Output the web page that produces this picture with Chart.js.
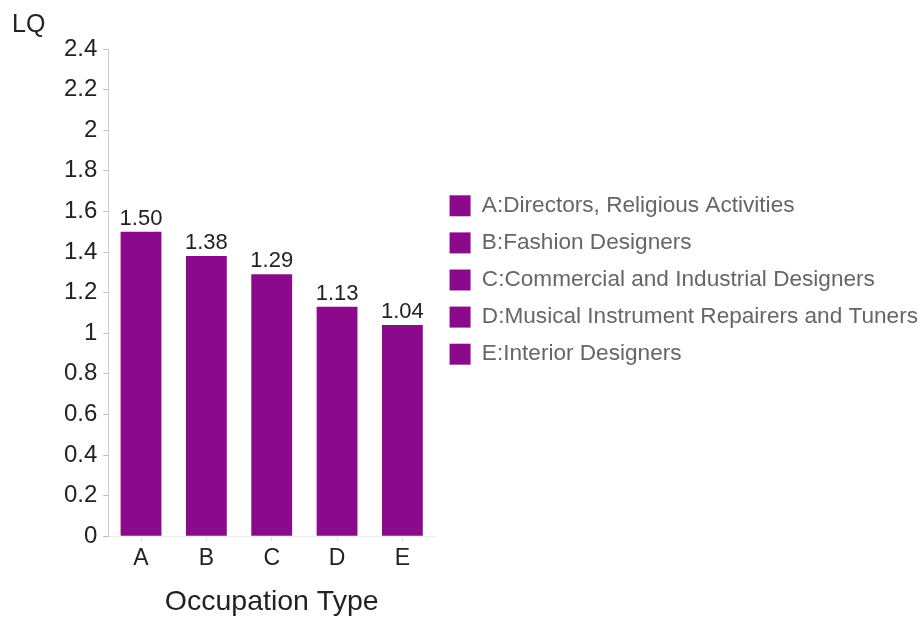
<!DOCTYPE html>
<html>
<head>
<meta charset="utf-8">
<title>LQ by Occupation Type</title>
<script src="https://cdn.jsdelivr.net/npm/chart.js@4.4.0/dist/chart.umd.min.js"></script>
<style>
  html, body { margin: 0; padding: 0; background: #fff; }
  #wrap { width: 922px; height: 619px; position: relative; }
</style>
</head>
<body>
<div id="wrap"><canvas id="lqChart"></canvas></div>
<script>
// LQ per occupation type
const categories = ['A', 'B', 'C', 'D', 'E'];
const lqValues = [1.50, 1.38, 1.29, 1.13, 1.04];
const occupations = [
  'A:Directors, Religious Activities',
  'B:Fashion Designers',
  'C:Commercial and Industrial Designers',
  'D:Musical Instrument Repairers and Tuners',
  'E:Interior Designers'
];
const yTicks = [0, 0.2, 0.4, 0.6, 0.8, 1, 1.2, 1.4, 1.6, 1.8, 2, 2.2, 2.4];

const barColor = '#8b0a8b';
const fontFamily = '"Liberation Sans", Arial, Helvetica, sans-serif';

// value labels over the bars + the "LQ" axis name in the top corner
const barLabels = {
  id: 'barLabels',
  afterDatasetsDraw(chart) {
    const ctx = chart.ctx;
    const meta = chart.getDatasetMeta(0);
    ctx.save();
    ctx.fillStyle = '#222';
    ctx.font = '22px ' + fontFamily;
    ctx.textAlign = 'center';
    ctx.textBaseline = 'bottom';
    meta.data.forEach((bar, i) => {
      ctx.fillText(lqValues[i].toFixed(2), bar.x, bar.y - 2);
    });
    ctx.font = '25px ' + fontFamily;
    ctx.textAlign = 'left';
    ctx.textBaseline = 'middle';
    ctx.fillText('LQ', 12, 25);
    ctx.restore();
  }
};

const ctx = document.getElementById('lqChart').getContext('2d');
const chart = new Chart(ctx, {
  type: 'bar',
  data: {
    labels: categories,
    datasets: [{
      label: 'LQ',
      data: lqValues,
      backgroundColor: barColor,
      borderWidth: 0,
      barPercentage: 0.625,
      categoryPercentage: 1
    }]
  },
  options: {
    responsive: true,
    maintainAspectRatio: false,
    animation: false,
    layout: {
      padding: { top: 49, left: 58, right: -6, bottom: 0 }
    },
    plugins: {
      tooltip: { enabled: false },
      legend: {
        position: 'right',
        align: 'start',
        maxWidth: 520,
        title: {
          display: true,
          text: '',
          font: { size: 10, family: fontFamily },
          padding: { top: 119, bottom: 0 }
        },
        labels: {
          boxWidth: 21,
          boxHeight: 21,
          padding: 14.5,
          color: '#959595',
          font: { size: 22.6, family: fontFamily },
          generateLabels: () => occupations.map((text, i) => ({
            text: text,
            fillStyle: barColor,
            strokeStyle: barColor,
            lineWidth: 0,
            hidden: false,
            index: i
          }))
        }
      }
    },
    scales: {
      x: {
        grid: {
          display: true,
          drawOnChartArea: false,
          drawTicks: true,
          tickLength: 5,
          offset: false,
          color: '#dddddd'
        },
        border: { display: true, color: '#eeeeee' },
        ticks: {
          color: '#222',
          padding: 4,
          font: { size: 23, family: fontFamily }
        },
        title: {
          display: true,
          text: 'Occupation Type',
          color: '#222',
          font: { size: 28.5, family: fontFamily },
          padding: { top: 8, bottom: 0 }
        }
      },
      y: {
        min: 0,
        max: 2.4,
        afterBuildTicks: axis => {
          axis.ticks = yTicks.map(v => ({ value: v }));
        },
        grid: {
          display: true,
          drawOnChartArea: false,
          drawTicks: true,
          tickLength: 5,
          color: '#bbbbbb'
        },
        border: { display: true, color: '#cccccc' },
        ticks: {
          color: '#222',
          padding: 6,
          font: { size: 24, family: fontFamily },
          callback: value => String(value)
        }
      }
    }
  },
  plugins: [barLabels]
});
</script>
</body>
</html>
